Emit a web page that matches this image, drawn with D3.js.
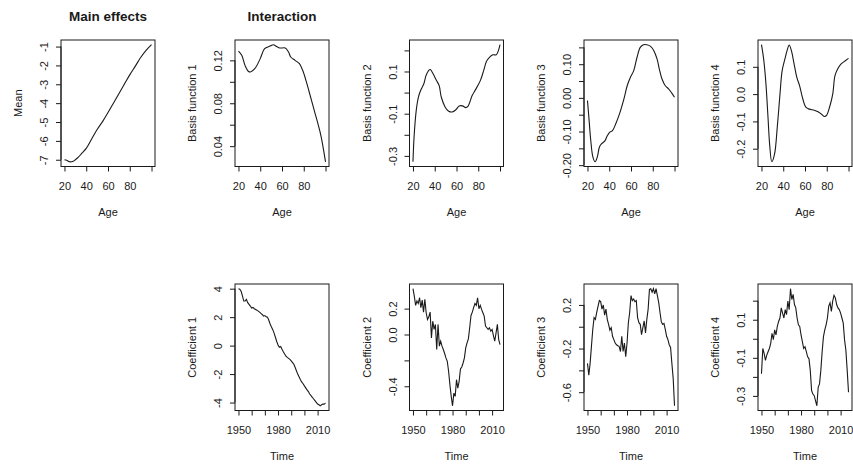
<!DOCTYPE html>
<html>
<head>
<meta charset="utf-8">
<script src="https://cdn.jsdelivr.net/npm/d3@7"></script>
<style>
  body { margin: 0; background: #fff; }
  text { font-family: "Liberation Sans", Arial, sans-serif; }
</style>
</head>
<body>
<svg id="chart" width="853" height="464"></svg>
<script>
// top row: [age, value] pairs
var mainEffect = [[20,-7.0],[22,-7.03],[25,-7.11],[28,-7.08],[30,-7.0],[33,-6.85],[36,-6.65],[40,-6.4],
    [45,-5.9],[50,-5.4],[55,-4.98],[60,-4.5],[65,-4.0],[70,-3.5],[75,-3.0],[80,-2.5],[85,-2.05],
    [90,-1.58],[95,-1.2],[100,-0.9]];
var basis1 = [[20,0.1287],[23,0.1247],[26,0.1153],[29,0.1098],[31,0.1091],[35,0.1122],[40,0.1216],
    [44,0.1309],[49,0.1333],[52,0.1346],[55,0.1330],[58,0.1315],[63,0.1315],[66,0.1278],[68,0.1231],
    [72,0.12],[76,0.1169],[79,0.1107],[82,0.1014],[85,0.0905],[90,0.072],[93,0.0611],[96,0.0487],[100,0.0254]];
var basis2 = [[20,-0.328],[21,-0.21],[23,-0.084],[25,-0.021],[27,0.01],[30,0.042],[32,0.081],[34.5,0.105],
    [36,0.109],[38.5,0.089],[41.5,0.058],[44,0.034],[46,-0.021],[49.5,-0.068],[52.5,-0.087],[56,-0.092],
    [59.5,-0.081],[62.5,-0.063],[65.5,-0.063],[68.5,-0.071],[70.5,-0.065],[74.5,-0.013],[77.5,0.014],
    [82,0.058],[85,0.105],[87.5,0.147],[90.5,0.168],[93.5,0.179],[96.5,0.179],[98.5,0.199],[100,0.227]];
var basis3 = [[20,-0.008],[21.5,-0.067],[23,-0.126],[25,-0.176],[27,-0.19],[29,-0.176],[31,-0.146],
    [33,-0.136],[36,-0.128],[38,-0.114],[40.5,-0.102],[43,-0.097],[46,-0.077],[49.5,-0.047],[53.5,-0.003],
    [56.5,0.036],[59.5,0.061],[62.5,0.081],[65.5,0.12],[68.5,0.15],[71.5,0.158],[74.5,0.158],[78,0.153],
    [81,0.14],[84,0.115],[86,0.086],[88.5,0.056],[91.5,0.036],[94.5,0.027],[97.5,0.014],[100,0.002]];
var basis4 = [[20,0.181],[22,0.128],[24,0.043],[26,-0.086],[27.5,-0.184],[29.5,-0.248],[32,-0.22],
    [34.5,-0.122],[37,0.0],[39,0.086],[41.5,0.128],[43.5,0.159],[45.5,0.18],[47.5,0.159],[50,0.11],
    [52.5,0.061],[55,0.031],[58,-0.018],[61,-0.049],[64,-0.055],[68.5,-0.059],[72,-0.065],[75,-0.073],
    [78,-0.082],[80,-0.077],[82.5,-0.049],[85.5,0.0],[87.5,0.067],[90,0.092],[93,0.11],[96,0.119],
    [99,0.128],[100,0.131]];

// bottom row: one value per year
var years = [1950,1951,1952,1953,1954,1955,1956,1957,1958,1959,
    1960,1961,1962,1963,1964,1965,1966,1967,1968,1969,
    1970,1971,1972,1973,1974,1975,1976,1977,1978,1979,
    1980,1981,1982,1983,1984,1985,1986,1987,1988,1989,
    1990,1991,1992,1993,1994,1995,1996,1997,1998,1999,
    2000,2001,2002,2003,2004,2005,2006,2007,2008,2009,
    2010,2011,2012,2013,2014,2015,2016];
var coef1 = [4.0,3.97,3.82,3.49,3.13,3.13,3.25,3.02,2.9,2.78,
    2.64,2.68,2.59,2.54,2.49,2.42,2.35,2.26,2.19,2.07,
    2.11,2.02,2.0,1.78,1.52,1.31,1.12,0.88,0.59,0.29,
    0.05,-0.12,-0.07,-0.26,-0.43,-0.59,-0.74,-0.83,-0.9,-0.97,
    -1.07,-1.19,-1.31,-1.54,-1.78,-2.02,-2.21,-2.4,-2.57,-2.68,
    -2.83,-2.97,-3.11,-3.23,-3.4,-3.52,-3.63,-3.75,-3.87,-3.99,
    -4.11,-4.16,-4.23,-4.16,-4.11,-4.11,-4.04];
var coef2 = [0.354,0.297,0.225,0.259,0.24,0.284,0.207,0.266,0.173,0.272,
    0.168,0.116,0.137,0.173,-0.026,0.103,0.039,0.078,-0.116,0.078,
    -0.09,-0.052,-0.09,-0.116,-0.147,-0.181,-0.207,-0.284,-0.388,-0.478,
    -0.551,-0.453,-0.478,-0.349,-0.414,-0.362,-0.266,-0.251,-0.22,-0.181,
    -0.103,-0.065,-0.034,0.052,0.147,0.173,0.207,0.24,0.225,0.284,
    0.199,0.225,0.194,0.168,0.142,0.065,0.052,0.039,0.052,0.026,
    0.039,-0.008,-0.052,0.013,0.078,-0.039,-0.078];
var coef3 = [-0.336,-0.445,-0.336,-0.18,-0.025,0.084,0.068,0.131,0.187,0.24,
    0.23,0.162,0.199,0.106,0.162,0.068,0.022,-0.031,-0.009,-0.087,
    -0.118,-0.149,-0.165,-0.174,-0.18,-0.227,-0.087,-0.227,-0.149,-0.274,
    -0.149,0.037,0.131,0.286,0.24,0.255,0.23,0.24,0.084,0.037,
    0.022,-0.072,-0.009,0.053,-0.056,0.068,0.162,0.342,0.349,0.317,
    0.349,0.302,0.349,0.286,0.224,0.131,0.044,0.022,0.031,-0.025,
    -0.087,-0.118,-0.165,-0.19,-0.336,-0.476,-0.725];
var coef4 = [-0.184,-0.051,-0.077,-0.113,-0.086,-0.068,-0.051,-0.024,0.029,-0.005,
    0.047,0.02,0.065,0.091,0.109,0.162,0.135,0.109,0.153,0.127,
    0.198,0.153,0.263,0.206,0.233,0.18,0.162,0.109,0.073,0.065,
    0.02,-0.015,-0.051,-0.042,-0.068,-0.095,-0.104,-0.166,-0.272,-0.29,
    -0.299,-0.326,-0.352,-0.255,-0.237,-0.166,-0.068,0.011,0.047,0.073,
    0.109,0.171,0.189,0.144,0.198,0.228,0.215,0.18,0.162,0.153,
    0.135,0.109,0.082,-0.006,-0.06,-0.166,-0.281];

// ticks and the labels R actually printed (overlapping ones were dropped)
var ageTicks = [20,40,60,80,100];
var ageLabels = ["20","40","60","80"];
var timeTicks = [1950,1960,1970,1980,1990,2000,2010];
var timeLabels = ["1950","1980","2010"];
var meanTicks = [-7,-6,-5,-4,-3,-2,-1];
var meanLabels = ["-7","-6","-5","-4","-3","-2","-1"];
var bf1Ticks = [0.04,0.06,0.08,0.10,0.12];
var bf1Labels = ["0.04","0.08","0.12"];
var bf2Ticks = [-0.3,-0.2,-0.1,0,0.1,0.2];
var bf2Labels = ["-0.3","-0.1","0.1"];
var bf3Ticks = [-0.20,-0.15,-0.10,-0.05,0,0.05,0.10,0.15];
var bf3Labels = ["-0.20","-0.10","0.00","0.10"];
var bf4Ticks = [-0.2,-0.1,0,0.1];
var bf4Labels = ["-0.2","-0.1","0.0","0.1"];
var c1Ticks = [-4,-2,0,2,4];
var c1Labels = ["-4","-2","0","2","4"];
var c2Ticks = [-0.4,-0.2,0,0.2];
var c2Labels = ["-0.4","0.0","0.2"];
var c3Ticks = [-0.6,-0.4,-0.2,0,0.2];
var c3Labels = ["-0.6","-0.2","0.2"];
var c4Ticks = [-0.3,-0.2,-0.1,0,0.1,0.2];
var c4Labels = ["-0.3","-0.1","0.1"];

var svg = d3.select("#chart");
var ink = "#1a1a1a";
var colLeft = [61, 235, 409.5, 584, 758];
var rowTop = [40, 284];
var pw = 94, ph = 126.5;

function padded(vals) {
    var e = d3.extent(vals), p = (e[1] - e[0]) * 0.04;
    return [e[0] - p, e[1] + p];
}

function labelFor(list) {
    return function (d) {
        var s = list.find(function (t) { return Math.abs(+t - d) < 1e-9; });
        return s || "";
    };
}

function drawPanel(col, row, xs, ys, xTicks, xLabels, yTicks, yLabels, xTitle, yTitle, smooth) {
    var g = svg.append("g")
        .attr("transform", "translate(" + colLeft[col] + "," + rowTop[row] + ")");

    var x = d3.scaleLinear().domain(padded(xs)).range([0, pw]);
    var y = d3.scaleLinear().domain(padded(ys)).range([ph, 0]);

    var line = d3.line()
        .x(function (d, i) { return x(xs[i]); })
        .y(function (d) { return y(d); })
        .curve(smooth ? d3.curveCatmullRom : d3.curveLinear);

    g.append("path")
        .datum(ys)
        .attr("d", line)
        .attr("fill", "none")
        .attr("stroke", ink)
        .attr("stroke-width", 1.1);

    // x axis
    var xg = g.append("g")
        .attr("transform", "translate(0," + ph + ")")
        .call(d3.axisBottom(x).tickValues(xTicks).tickSize(5).tickSizeOuter(0)
            .tickPadding(11).tickFormat(labelFor(xLabels)));
    xg.select(".domain").remove();
    xg.append("line")
        .attr("x1", x(xTicks[0])).attr("x2", x(xTicks[xTicks.length - 1]))
        .attr("stroke", ink);

    // y axis, labels parallel to the axis
    var yg = g.append("g")
        .call(d3.axisLeft(y).tickValues(yTicks).tickSize(5).tickSizeOuter(0)
            .tickFormat(labelFor(yLabels)));
    yg.select(".domain").remove();
    yg.append("line")
        .attr("y1", y(yTicks[0])).attr("y2", y(yTicks[yTicks.length - 1]))
        .attr("stroke", ink);
    yg.selectAll(".tick text")
        .attr("transform", "rotate(-90)")
        .attr("text-anchor", "middle")
        .attr("x", 0)
        .attr("y", -13)
        .attr("dy", null);

    [xg, yg].forEach(function (a) {
        a.attr("color", ink).attr("font-size", 11)
            .attr("font-family", "'Liberation Sans', Arial, sans-serif");
    });

    // box
    g.append("rect")
        .attr("width", pw).attr("height", ph)
        .attr("fill", "none").attr("stroke", ink);

    g.append("text")
        .attr("x", pw / 2).attr("y", ph + 49)
        .attr("text-anchor", "middle")
        .attr("font-size", 11).attr("fill", ink)
        .text(xTitle);

    g.append("text")
        .attr("transform", "translate(-39," + (ph / 2) + ") rotate(-90)")
        .attr("text-anchor", "middle")
        .attr("font-size", 11).attr("fill", ink)
        .text(yTitle);

    return g;
}

function ages(d) { return d.map(function (p) { return p[0]; }); }
function vals(d) { return d.map(function (p) { return p[1]; }); }

drawPanel(0, 0, ages(mainEffect), vals(mainEffect), ageTicks, ageLabels, meanTicks, meanLabels, "Age", "Mean", true);
drawPanel(1, 0, ages(basis1), vals(basis1), ageTicks, ageLabels, bf1Ticks, bf1Labels, "Age", "Basis function 1", true);
drawPanel(2, 0, ages(basis2), vals(basis2), ageTicks, ageLabels, bf2Ticks, bf2Labels, "Age", "Basis function 2", true);
drawPanel(3, 0, ages(basis3), vals(basis3), ageTicks, ageLabels, bf3Ticks, bf3Labels, "Age", "Basis function 3", true);
drawPanel(4, 0, ages(basis4), vals(basis4), ageTicks, ageLabels, bf4Ticks, bf4Labels, "Age", "Basis function 4", true);

drawPanel(1, 1, years, coef1, timeTicks, timeLabels, c1Ticks, c1Labels, "Time", "Coefficient 1", false);
drawPanel(2, 1, years, coef2, timeTicks, timeLabels, c2Ticks, c2Labels, "Time", "Coefficient 2", false);
drawPanel(3, 1, years, coef3, timeTicks, timeLabels, c3Ticks, c3Labels, "Time", "Coefficient 3", false);
drawPanel(4, 1, years, coef4, timeTicks, timeLabels, c4Ticks, c4Labels, "Time", "Coefficient 4", false);

// column headings
svg.append("text")
    .attr("x", colLeft[0] + pw / 2).attr("y", 20.5)
    .attr("text-anchor", "middle")
    .attr("font-size", 13.5).attr("font-weight", "bold").attr("fill", ink)
    .text("Main effects");
svg.append("text")
    .attr("x", colLeft[1] + pw / 2).attr("y", 20.5)
    .attr("text-anchor", "middle")
    .attr("font-size", 13.5).attr("font-weight", "bold").attr("fill", ink)
    .text("Interaction");
</script>
</body>
</html>
